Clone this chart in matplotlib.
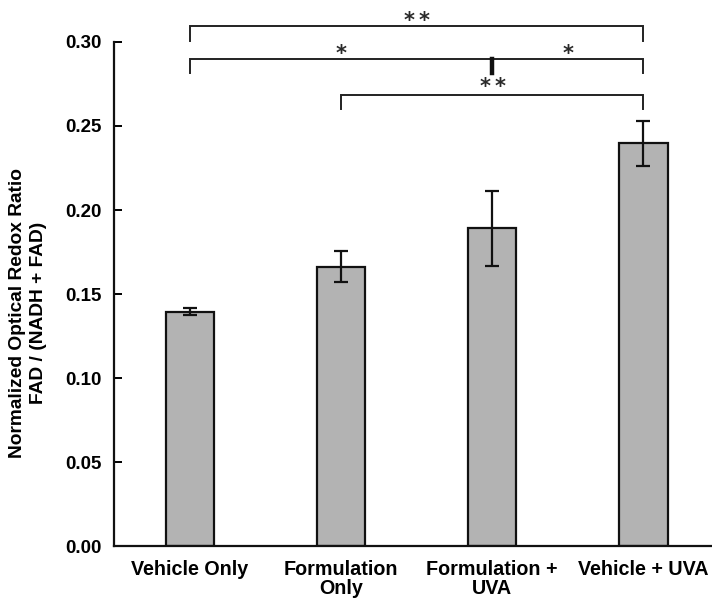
import matplotlib
matplotlib.use("Agg")
import matplotlib.pyplot as plt
import numpy as np

plt.rcParams['font.family'] = ['Liberation Sans', 'DejaVu Sans']
plt.rcParams['font.weight'] = 'bold'

# Mean normalized redox ratio per treatment group, with error
categories = ["Vehicle Only", "Formulation\nOnly", "Formulation +\nUVA", "Vehicle + UVA"]
means = [0.1395, 0.1663, 0.1891, 0.2397]
errors = [0.0020, 0.0093, 0.0221, 0.0134]
yticks = [0.00, 0.05, 0.10, 0.15, 0.20, 0.25, 0.30]

# Significance brackets: (left group, right group, bar level, tip level, stars, label gap pt)
brackets = [
    (0, 3, 0.3095, 0.3006, 2, 3.5),
    (0, 3, 0.2899, 0.2816, 0, 3.5),
    (1, 3, 0.2685, 0.2602, 2, 6.0),
]
# Split marker on the middle bracket and its two star labels: (x, y, count)
split_tick = (2, 0.2899, 0.2816)
split_labels = [(1.0, 0.2899, 1), (2.5, 0.2899, 1)]

fig = plt.figure(figsize=(7.12, 6.0), dpi=100)
ax = fig.add_axes([0.160, 0.0892, 0.850, 0.841])

x = np.arange(len(categories))
ax.bar(x, means, width=0.318, color="#b3b3b3", edgecolor="#111111",
       linewidth=1.6, zorder=2)
ax.errorbar(x, means, yerr=errors, fmt="none", ecolor="#111111",
            elinewidth=1.6, capsize=5, capthick=1.6, zorder=3)

ax.set_xlim(-0.5, 3.5)
ax.set_ylim(0, 0.30)
ax.set_yticks(yticks)
ax.set_yticklabels([f"{v:.2f}" for v in yticks], fontsize=13.5, fontweight="bold")
ax.set_xticks(x)
ax.set_xticklabels(categories, fontsize=14.2, fontweight="bold", linespacing=1.0)
ax.tick_params(axis="y", direction="in", length=6, width=1.4, pad=9)
ax.tick_params(axis="x", length=0, pad=10)
for s in ["top", "right"]:
    ax.spines[s].set_visible(False)
for s in ["left", "bottom"]:
    ax.spines[s].set_linewidth(1.6)
    ax.spines[s].set_color("#111111")

ax.set_ylabel("Normalized Optical Redox Ratio\nFAD / (NADH + FAD)",
              fontsize=13.8, fontweight="bold", linespacing=1.3)
ax.yaxis.set_label_coords(-0.110, 0.462)


def stars(xc, y, n, gap):
    # asterisks sit a few pixels above the bracket line, about 15 px apart
    offsets = [0.0] if n == 1 else [-0.05, 0.05]
    for dx in offsets:
        ax.annotate("*", xy=(xc + dx, y), xytext=(0, gap), textcoords="offset points",
                    ha="center", va="center", fontsize=15, fontweight="bold",
                    family="DejaVu Sans", color="#2a2a2a", annotation_clip=False)


for left, right, top, tip, n, gap in brackets:
    ax.plot([left, left, right, right], [tip, top, top, tip], color="#222222",
            lw=1.4, clip_on=False, solid_joinstyle="miter")
    if n:
        stars((left + right) / 2, top, n, gap)

sx, stop, stip = split_tick
ax.plot([sx, sx], [stop, stip], color="#111111", lw=3.2, clip_on=False)
for lx, ly, n in split_labels:
    stars(lx, ly, n, 3.5)

fig.savefig("out.png", dpi=100)
